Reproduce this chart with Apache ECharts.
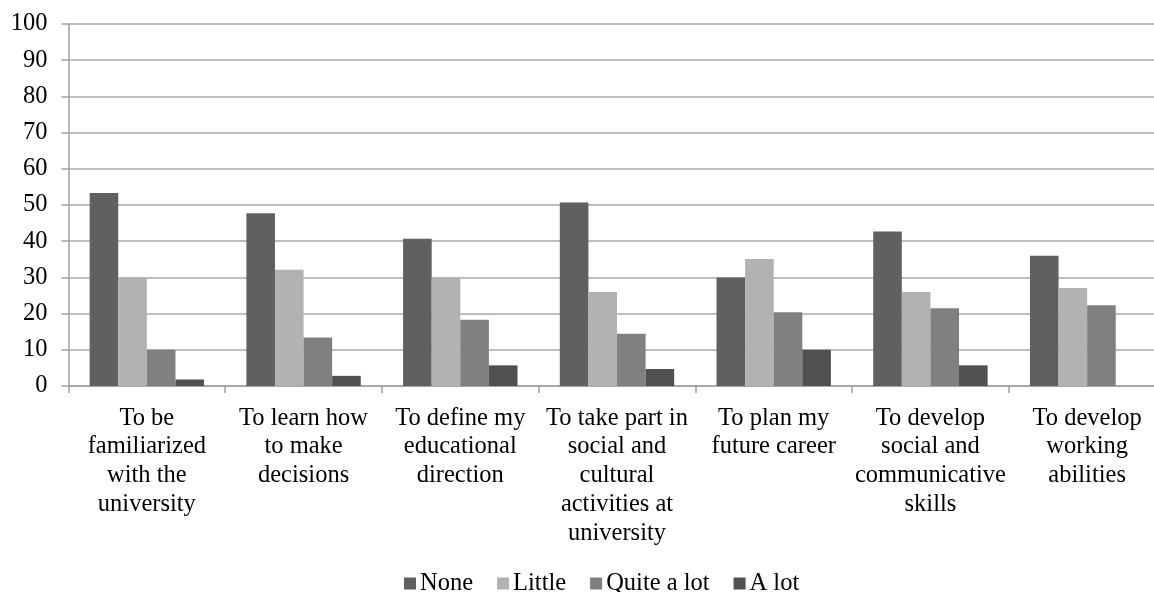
<!DOCTYPE html>
<html>
<head>
<meta charset="utf-8">
<script src="https://cdn.jsdelivr.net/npm/echarts@6/dist/echarts.min.js"></script>
<style>
html,body{margin:0;padding:0;background:#fff;}
#chart{width:1154px;height:592px;}
</style>
</head>
<body>
<div id="chart"></div>
<script>
const categories = [
  "To be\nfamiliarized\nwith the\nuniversity",
  "To learn how\nto make\ndecisions",
  "To define my\neducational\ndirection",
  "To take part in\nsocial and\ncultural\nactivities at\nuniversity",
  "To plan my\nfuture career",
  "To develop\nsocial and\ncommunicative\nskills",
  "To develop\nworking\nabilities"
];
const seriesNames = ["None", "Little", "Quite a lot", "A lot"];
const noneVals = [53.3, 47.7, 40.7, 50.7, 30.0, 42.7, 36.0];
const littleVals = [30.0, 32.1, 30.0, 26.0, 35.1, 26.0, 27.1];
const quiteVals = [10.0, 13.4, 18.3, 14.4, 20.4, 21.5, 22.3];
const alotVals = [1.8, 2.8, 5.7, 4.7, 10.0, 5.7, 0];
const yTicks = [0, 10, 20, 30, 40, 50, 60, 70, 80, 90, 100];

const colors = ["#606060", "#b2b2b2", "#808080", "#505050"];
const font = "'Liberation Serif', 'Times New Roman', serif";
const allVals = [noneVals, littleVals, quiteVals, alotVals];

const chart = echarts.init(document.getElementById('chart'), null, {renderer: 'canvas'});
chart.setOption({
  animation: false,
  backgroundColor: '#fff',
  textStyle: {fontFamily: font},
  grid: {left: 68.5, width: 1097, top: 24, bottom: 206, containLabel: false, outerBoundsMode: 'none'},
  legend: {
    data: seriesNames,
    left: 399,
    top: 566,
    itemWidth: 12,
    itemHeight: 12,
    itemGap: 24,
    icon: 'rect',
    textStyle: {fontFamily: font, fontSize: 24.5, color: '#000', padding: [0, 0, 0, -1]}
  },
  xAxis: {
    type: 'category',
    data: categories,
    axisLine: {show: true, lineStyle: {color: '#a0a0a0', width: 1.5}},
    axisTick: {show: true, length: 7, lineStyle: {color: '#a0a0a0', width: 1.5}},
    axisLabel: {
      interval: 0,
      margin: 18,
      fontFamily: font,
      fontSize: 24.5,
      lineHeight: 28.7,
      color: '#000',
      align: 'center'
    }
  },
  yAxis: {
    type: 'value',
    min: yTicks[0],
    max: yTicks[yTicks.length - 1],
    interval: 10,
    axisLine: {show: true, lineStyle: {color: '#a0a0a0', width: 1.5}},
    axisTick: {show: true, length: 7, lineStyle: {color: '#a0a0a0', width: 1.5}},
    splitLine: {show: true, lineStyle: {color: '#a8a8a8', width: 1.5}},
    axisLabel: {margin: 21, fontFamily: font, fontSize: 24.5, color: '#000'}
  },
  series: seriesNames.map((name, i) => ({
    name: name,
    type: 'bar',
    data: allVals[i],
    barGap: '0%',
    barCategoryGap: '27%',
    itemStyle: {color: colors[i]}
  }))
});
</script>
</body>
</html>
